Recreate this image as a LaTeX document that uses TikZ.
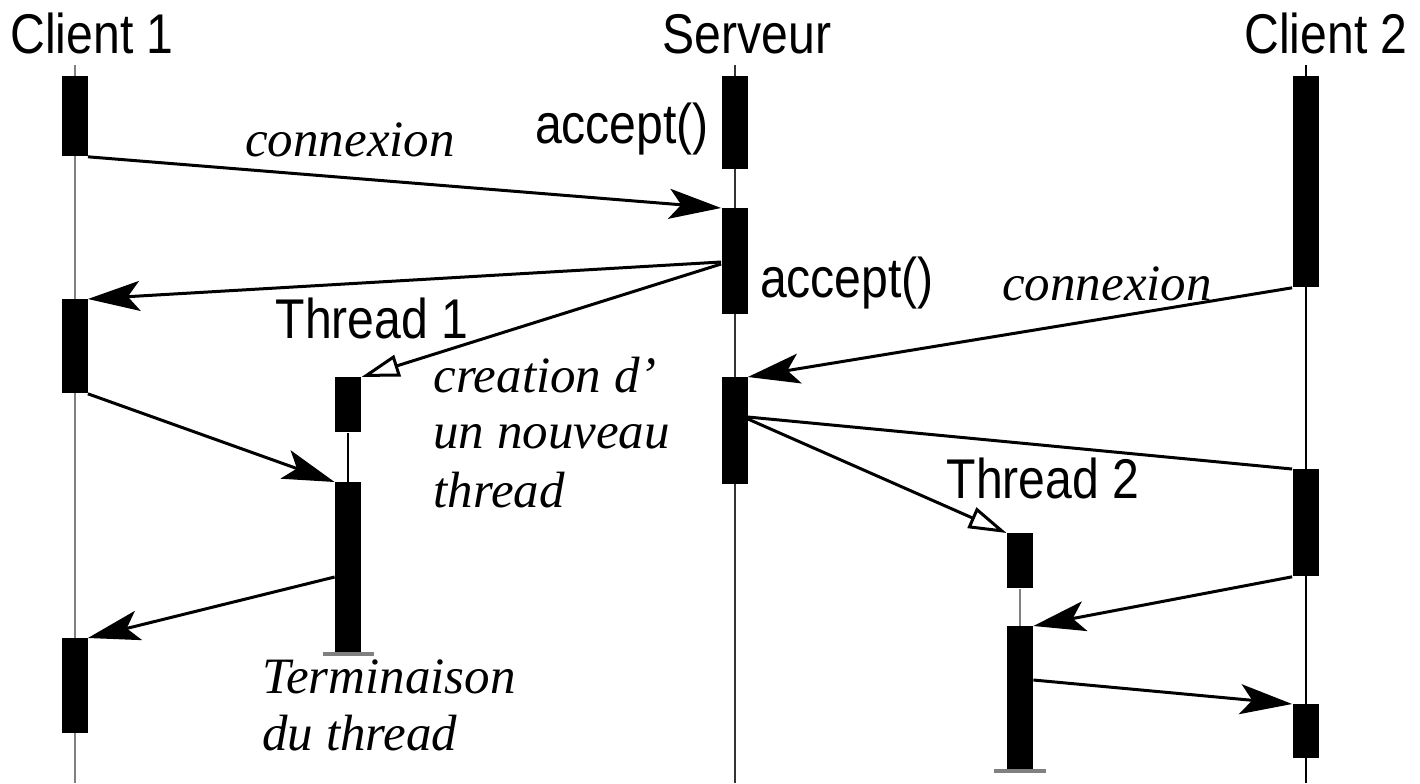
\documentclass[tikz,border=0pt]{standalone}
\usepackage{fontspec}
\setmainfont{Liberation Serif}
\newfontfamily\labfont[FakeStretch=0.86]{Liberation Sans}
\usetikzlibrary{arrows.meta}
\tikzset{
  act/.style={rectangle, fill=black, draw=none, minimum width=13pt, inner sep=0pt, anchor=north},
  life/.style={line width=1pt},
  msg/.style={line width=1.5pt, -{Stealth[length=26pt, width=15pt, inset=6pt]}},
  plainmsg/.style={line width=1.5pt},
  create/.style={line width=1.5pt, -{Triangle[open, length=19pt, width=11pt, fill=white]}},
  term/.style={draw=gray, line width=2pt},
  lab/.style={font=\labfont\fontsize{28pt}{32pt}\selectfont, inner sep=0pt, anchor=base},
  ital/.style={font=\itshape\fontsize{25.5pt}{28pt}\selectfont, inner sep=0pt, anchor=base},
  itall/.style={ital, anchor=base west}
}
\begin{document}
\begin{tikzpicture}[x=0.5pt, y=-0.5pt]
\useasboundingbox (0,0) rectangle (1420,783);
\fill[white] (0,0) rectangle (1420,783);
% lifelines
\coordinate (c1top) at (74.5,65);  \coordinate (c1bot) at (74.5,783);
\coordinate (stop) at (734.5,65);  \coordinate (sbot) at (734.5,783);
\coordinate (c2top) at (1305.5,65); \coordinate (c2bot) at (1305.5,783);
\draw[life, gray] (c1top) -- (c1bot);
\draw[life, black!80] (stop) -- (sbot);
\draw[life] (c2top) -- (c2bot);
% headers
\node[lab] (h1) at (92,53) {Client 1};
\node[lab] (h2) at (747,53) {Serveur};
\node[lab] (h3) at (1326,53) {Client 2};
% activation boxes: Client 1
\node[act, minimum height=40pt] (c1a) at (74.5,76) {};
\node[act, minimum height=47pt] (c1b) at (74.5,299) {};
\node[act, minimum height=47.5pt] (c1c) at (74.5,638) {};
% Server
\node[act, minimum height=46.5pt] (sa) at (734.5,76) {};
\node[act, minimum height=53pt] (sb) at (734.5,208) {};
\node[act, minimum height=53.5pt] (sc) at (734.5,377) {};
% Client 2
\node[act, minimum height=105.5pt] (ca) at (1305.5,76) {};
\node[act, minimum height=53.5pt] (cb) at (1305.5,469) {};
\node[act, minimum height=27pt] (cc) at (1305.5,704) {};
% Thread 1
\node[act, minimum height=27.5pt] (t1a) at (348,377) {};
\node[act, minimum height=85.5pt] (t1b) at (348,482) {};
\draw[life] (t1a.south) -- (t1b.north);
\draw[term] ([xshift=-12.75pt]t1b.south) -- ([xshift=12.75pt]t1b.south);
% Thread 2
\node[act, minimum height=27.5pt] (t2a) at (1020,533) {};
\node[act, minimum height=72pt] (t2b) at (1020,626) {};
\draw[life, gray] (t2a.south) -- (t2b.north);
\draw[term] ([xshift=-13pt]t2b.south) -- ([xshift=13pt]t2b.south);
% messages
\draw[msg] (c1a.south east) -- (sb.north west);
\draw[msg] ([yshift=-27pt]sb.north west) -- (c1b.north east);
\draw[create] ([yshift=-28pt]sb.north west) -- (t1a.north east);
\draw[msg] (c1b.south east) -- (t1b.north west);
\draw[msg] ([yshift=-47.5pt]t1b.north west) -- (c1c.north east);
\draw[msg] (ca.south west) -- (sc.north east);
\draw[plainmsg] ([yshift=-20pt]sc.north east) -- (cb.north west);
\draw[create] ([yshift=-21pt]sc.north east) -- (t2a.north west);
\draw[msg] (cb.south west) -- (t2b.north east);
\draw[msg] ([yshift=-27pt]t2b.north east) -- (cc.north west);
% labels
\node[ital] (l1) at (350,156) {connexion};
\node[ital] (l2) at (1107,300) {connexion};
\node[lab] (acc1) at (622,143) {accept()};
\node[lab] (acc2) at (847,297) {accept()};
\node[lab] (th1) at (372,338) {Thread 1};
\node[lab] (th2) at (1043,498) {Thread 2};
\node[itall] (cr1) at (433,392) {creation d’};
\node[itall] (cr2) at (433,448) {un nouveau};
\node[itall] (cr3) at (433,507) {thread};
\node[itall] (tm1) at (262,693) {Terminaison};
\node[itall] (tm2) at (262,750) {du thread};
\end{tikzpicture}
\end{document}
